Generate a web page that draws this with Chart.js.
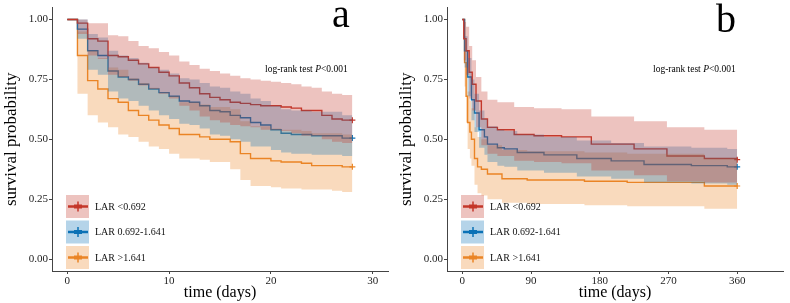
<!DOCTYPE html>
<html>
<head>
<meta charset="utf-8">
<script src="https://cdn.jsdelivr.net/npm/chart.js@4/dist/chart.umd.min.js"></script>
<style>
  body { margin: 0; background: #fff; }
  .wrap { display: flex; width: 790px; height: 303px; }
  canvas { display: block; }
</style>
</head>
<body>
<div class="wrap">
  <canvas id="chartA" width="395" height="303"></canvas>
  <canvas id="chartB" width="395" height="303"></canvas>
</div>
<script>
// --- DATOS ---
const grupos = ['LAR <0.692', 'LAR 0.692-1.641', 'LAR >1.641'];
const colores = ['#C4372A', '#0B72B6', '#EA8526'];
const bandas = ['rgba(196,55,42,0.3)', 'rgba(11,114,182,0.3)', 'rgba(234,133,38,0.3)'];

const yTicks = [0, 0.25, 0.5, 0.75, 1];
const xTicksA = [0, 10, 20, 30];
const xTicksB = [0, 90, 180, 270, 360];

// Panel a (28 dias)
const diasA = [0, 1, 2, 3, 4, 5, 6, 7, 8, 9, 10, 11, 12, 13, 14, 15, 16, 17, 18, 19, 20, 21, 22, 23, 24, 25, 26, 27, 28];
const rojoA    = [1, 0.985, 0.92, 0.91, 0.85, 0.845, 0.83, 0.815, 0.80, 0.78, 0.765, 0.735, 0.715, 0.69, 0.675, 0.665, 0.655, 0.65, 0.645, 0.64, 0.64, 0.635, 0.63, 0.62, 0.62, 0.60, 0.585, 0.58, 0.58];
const rojoSupA = [1, 1, 0.985, 0.985, 0.935, 0.93, 0.91, 0.89, 0.88, 0.865, 0.85, 0.825, 0.81, 0.795, 0.785, 0.775, 0.765, 0.755, 0.75, 0.745, 0.74, 0.735, 0.73, 0.72, 0.715, 0.70, 0.69, 0.685, 0.68];
const rojoInfA = [1, 0.94, 0.85, 0.835, 0.77, 0.76, 0.745, 0.725, 0.71, 0.69, 0.67, 0.64, 0.62, 0.595, 0.58, 0.57, 0.56, 0.555, 0.55, 0.54, 0.54, 0.535, 0.525, 0.515, 0.515, 0.50, 0.49, 0.485, 0.485];
const azulA    = [1, 0.96, 0.87, 0.85, 0.785, 0.76, 0.75, 0.73, 0.71, 0.695, 0.68, 0.66, 0.655, 0.64, 0.62, 0.615, 0.60, 0.59, 0.57, 0.56, 0.54, 0.525, 0.52, 0.52, 0.515, 0.515, 0.515, 0.505, 0.505];
const azulSupA = [1, 1, 0.94, 0.925, 0.87, 0.85, 0.84, 0.82, 0.80, 0.79, 0.775, 0.755, 0.75, 0.735, 0.72, 0.715, 0.70, 0.69, 0.67, 0.66, 0.64, 0.625, 0.62, 0.62, 0.615, 0.615, 0.615, 0.60, 0.60];
const azulInfA = [1, 0.92, 0.79, 0.77, 0.70, 0.67, 0.66, 0.64, 0.62, 0.60, 0.585, 0.565, 0.56, 0.545, 0.52, 0.515, 0.50, 0.49, 0.47, 0.47, 0.455, 0.445, 0.44, 0.44, 0.435, 0.435, 0.435, 0.43, 0.43];
const naranjaA    = [1, 0.85, 0.745, 0.71, 0.67, 0.655, 0.62, 0.60, 0.58, 0.56, 0.545, 0.52, 0.52, 0.51, 0.50, 0.50, 0.49, 0.44, 0.42, 0.42, 0.41, 0.405, 0.405, 0.40, 0.39, 0.39, 0.39, 0.385, 0.385];
const naranjaSupA = [1, 0.95, 0.87, 0.84, 0.80, 0.79, 0.755, 0.735, 0.715, 0.695, 0.68, 0.655, 0.655, 0.645, 0.635, 0.635, 0.625, 0.575, 0.555, 0.555, 0.545, 0.54, 0.54, 0.535, 0.525, 0.525, 0.525, 0.52, 0.52];
const naranjaInfA = [1, 0.69, 0.60, 0.57, 0.55, 0.52, 0.51, 0.49, 0.47, 0.46, 0.44, 0.42, 0.42, 0.415, 0.405, 0.405, 0.375, 0.33, 0.305, 0.305, 0.30, 0.295, 0.295, 0.29, 0.29, 0.29, 0.285, 0.28, 0.28];

// Panel b (360 dias)
const diasRojoB = [0, 2, 5, 9, 13, 18, 25, 33, 46, 68, 94, 130, 169, 225, 268, 317, 360];
const rojoB     = [1, 0.92, 0.87, 0.78, 0.73, 0.66, 0.585, 0.55, 0.54, 0.52, 0.515, 0.51, 0.48, 0.46, 0.43, 0.42, 0.415];
const rojoSupB  = [1, 0.99, 0.97, 0.89, 0.83, 0.76, 0.70, 0.665, 0.655, 0.635, 0.63, 0.625, 0.595, 0.575, 0.55, 0.54, 0.535];
const rojoInfB  = [1, 0.83, 0.77, 0.67, 0.62, 0.55, 0.475, 0.44, 0.43, 0.41, 0.405, 0.40, 0.37, 0.35, 0.325, 0.32, 0.315];
const diasAzulB = [0, 3, 7, 12, 16, 22, 29, 33, 46, 55, 72, 107, 150, 195, 238, 300, 347, 360];
const azulB     = [1, 0.87, 0.76, 0.665, 0.61, 0.54, 0.51, 0.48, 0.465, 0.46, 0.445, 0.435, 0.42, 0.41, 0.395, 0.39, 0.385, 0.385];
const azulSupB  = [1, 0.93, 0.84, 0.75, 0.69, 0.62, 0.585, 0.555, 0.54, 0.535, 0.52, 0.51, 0.495, 0.485, 0.47, 0.465, 0.46, 0.46];
const azulInfB  = [1, 0.80, 0.68, 0.58, 0.53, 0.465, 0.435, 0.405, 0.39, 0.385, 0.37, 0.36, 0.345, 0.335, 0.32, 0.315, 0.31, 0.31];
const diasNaranjaB = [0, 3, 5, 7, 10, 12, 16, 20, 25, 33, 52, 85, 160, 216, 317, 360];
const naranjaB     = [1, 0.82, 0.68, 0.57, 0.53, 0.50, 0.42, 0.385, 0.375, 0.355, 0.335, 0.33, 0.325, 0.32, 0.305, 0.305];
const naranjaSupB  = [1, 0.92, 0.80, 0.70, 0.66, 0.63, 0.55, 0.51, 0.50, 0.475, 0.455, 0.45, 0.445, 0.44, 0.42, 0.42];
const naranjaInfB  = [1, 0.72, 0.57, 0.46, 0.42, 0.39, 0.31, 0.275, 0.265, 0.25, 0.235, 0.23, 0.225, 0.22, 0.21, 0.21];

const FUENTE = '"Liberation Serif", "Times New Roman", serif';

function puntos(tiempos, valores) {
  return tiempos.map((t, i) => ({ x: t, y: valores[i] }));
}

// letra del panel, texto del log-rank y leyenda
const extras = {
  id: 'extras',
  afterDraw(chart, args, opts) {
    const ctx = chart.ctx;
    ctx.save();
    ctx.fillStyle = '#000';
    ctx.textAlign = 'center';
    ctx.textBaseline = 'alphabetic';
    ctx.font = '40px ' + FUENTE;
    ctx.fillText(opts.letra, opts.letraX, opts.letraY);

    // log-rank test P<0.001
    ctx.textAlign = 'left';
    let x = opts.logX;
    const partes = [['log-rank test ', ''], ['P', 'italic '], ['<0.001', '']];
    partes.forEach(p => {
      ctx.font = p[1] + '9.5px ' + FUENTE;
      ctx.fillText(p[0], x, opts.logY);
      x += ctx.measureText(p[0]).width;
    });

    // leyenda
    const filas = [206.5, 232, 257.5];
    grupos.forEach((g, i) => {
      const y = filas[i];
      ctx.fillStyle = bandas[i];
      ctx.fillRect(66, y - 11.5, 23, 23);
      ctx.strokeStyle = colores[i];
      ctx.lineWidth = 2.5;
      ctx.beginPath(); ctx.moveTo(68, y); ctx.lineTo(88, y); ctx.stroke();
      ctx.lineWidth = 4;
      ctx.beginPath(); ctx.moveTo(74, y); ctx.lineTo(82, y); ctx.stroke();
      ctx.lineWidth = 1.5;
      ctx.beginPath(); ctx.moveTo(78, y - 5); ctx.lineTo(78, y + 5); ctx.stroke();
      ctx.fillStyle = '#111';
      ctx.font = '10px ' + FUENTE;
      ctx.textBaseline = 'middle';
      ctx.fillText(g, 95, y + 0.5);
      ctx.textBaseline = 'alphabetic';
    });
    ctx.restore();
  }
};

function crearPanel(id, series, xMin, xMax, xTicks, extra) {
  const datasets = [];
  series.forEach((s, i) => {
    datasets.push({ data: puntos(s.t, s.sup), borderWidth: 0, pointRadius: 0, stepped: true,
      fill: '+1', backgroundColor: bandas[i], order: 1 });
    datasets.push({ data: puntos(s.t, s.inf), borderWidth: 0, pointRadius: 0, stepped: true,
      fill: false, order: 1 });
    datasets.push({ data: puntos(s.t, s.surv), borderColor: colores[i], borderWidth: 1.4, stepped: true,
      fill: false, order: 2, pointStyle: 'cross', pointBorderColor: colores[i], pointBorderWidth: 1.2,
      pointRadius: s.t.map((_, k) => k === s.t.length - 1 ? 3 : 0) });
  });

  const ctx = document.getElementById(id).getContext('2d');
  return new Chart(ctx, {
    type: 'line',
    data: { datasets: datasets },
    options: {
      responsive: false,
      animation: false,
      events: [],
      layout: { padding: { top: 4, right: 7, left: 0, bottom: 0 } },
      plugins: { legend: { display: false }, tooltip: { enabled: false }, extras: extra },
      scales: {
        x: {
          type: 'linear', min: xMin, max: xMax,
          afterBuildTicks: sc => { sc.ticks = xTicks.map(v => ({ value: v })); },
          afterFit: sc => { sc.height = 32; },
          grid: { drawOnChartArea: false, tickLength: 3, color: '#444' },
          border: { color: '#444', width: 1 },
          ticks: { color: '#222', padding: 1, font: { family: FUENTE, size: 11 } },
          title: { display: true, text: 'time (days)', color: '#000', padding: { top: 0, bottom: 1 },
            font: { family: FUENTE, size: 16 } }
        },
        y: {
          min: -0.05, max: 1.05,
          afterBuildTicks: sc => { sc.ticks = yTicks.map(v => ({ value: v })); },
          afterFit: sc => { sc.width = 52; },
          grid: { drawOnChartArea: false, tickLength: 3, color: '#444' },
          border: { color: '#444', width: 1 },
          ticks: { color: '#222', padding: 1, font: { family: FUENTE, size: 11 },
            callback: v => v.toFixed(2) },
          title: { display: true, text: 'survival probability', color: '#000', padding: { top: 1, bottom: 0 },
            font: { family: FUENTE, size: 17 } }
        }
      }
    },
    plugins: [extras]
  });
}

crearPanel('chartA', [
  { t: diasA, surv: rojoA, sup: rojoSupA, inf: rojoInfA },
  { t: diasA, surv: azulA, sup: azulSupA, inf: azulInfA },
  { t: diasA, surv: naranjaA, sup: naranjaSupA, inf: naranjaInfA }
], -1.5, 31.5, xTicksA, { letra: 'a', letraX: 341, letraY: 27, logX: 265, logY: 72 });

crearPanel('chartB', [
  { t: diasRojoB, surv: rojoB, sup: rojoSupB, inf: rojoInfB },
  { t: diasAzulB, surv: azulB, sup: azulSupB, inf: azulInfB },
  { t: diasNaranjaB, surv: naranjaB, sup: naranjaSupB, inf: naranjaInfB }
], -20, 420, xTicksB, { letra: 'b', letraX: 331, letraY: 32, logX: 258, logY: 72 });
</script>
</body>
</html>
